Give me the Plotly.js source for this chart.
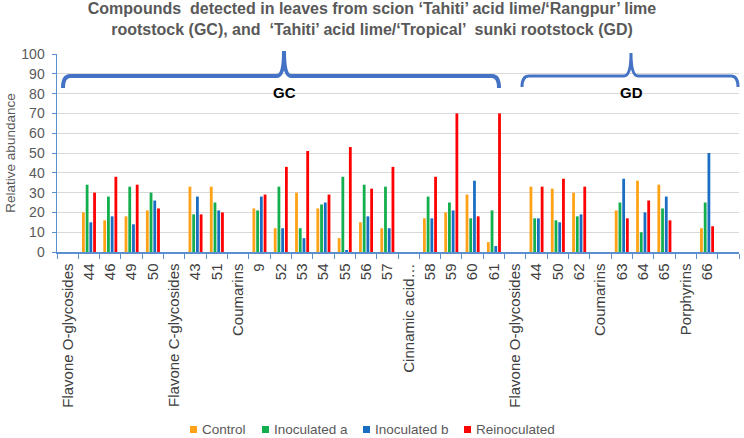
<!DOCTYPE html>
<html>
<head>
<meta charset="utf-8">
<script src="https://cdn.plot.ly/plotly-3.0.1.min.js"></script>
<style>html,body{margin:0;padding:0;background:#fff;}#chart{width:744px;height:438px;}</style>
</head>
<body>
<div id="chart"></div>
<script>
var categories = ["Flavone O-glycosides","44","46","49","50","Flavone C-glycosides","43","51","Coumarins","9","52","53","54","55","56","57","Cinnamic acid…","58","59","60","61","Flavone O-glycosides","44","50","62","Coumarins","63","64","65","Porphyrins","66",""];
var control     = [null,20,16,18,21,null,33,33,null,22,12,30,22,7,15,12,null,17,20,29,5,null,33,32,30,null,21,36,34,null,12,null];
var inoculatedA = [null,34,28,33,30,null,19,25,null,21,33,12,24,38,34,33,null,28,25,17,21,null,17,16,18,null,25,10,22,null,25,null];
var inoculatedB = [null,15,18,14,26,null,28,21,null,28,12,7,25,1,18,12,null,17,21,36,3,null,17,15,19,null,37,20,28,null,50,null];
var reinoculated= [null,30,38,34,22,null,19,20,null,29,43,51,29,53,32,43,null,38,70,18,70,null,33,37,33,null,17,26,16,null,13,null];

var seriesNames = ["Control","Inoculated a","Inoculated b","Reinoculated"];
var colors = ["#FFA215","#13AF4F","#1A6EC2","#FF0000"];

var xs = categories.map(function(_, i){ return i; });
var seriesVals = [control, inoculatedA, inoculatedB, reinoculated];

var data = seriesVals.map(function(v, k){
  return {type:"bar", name: seriesNames[k], x: xs, y: v, marker:{color: colors[k]}, hoverinfo:"skip", showlegend:false};
});

// plot area geometry (pixels) for paper conversion
var L = 57, R = 5, T = 54, B = 186, W = 744, H = 438;
var PW = W - L - R, PH = H - T - B;
function px(x){ return (x - L) / PW; }
function py(y){ return (H - B - y) / PH; }

function brace(x0, x1, xp, yh, yend, ypk, r){
  return "M "+px(x0)+","+py(yend)+" Q "+px(x0)+","+py(yh)+" "+px(x0+r)+","+py(yh)+
         " L "+px(xp-r)+","+py(yh)+" Q "+px(xp)+","+py(yh)+" "+px(xp)+","+py(ypk)+
         " Q "+px(xp)+","+py(yh)+" "+px(xp+r)+","+py(yh)+
         " L "+px(x1-r)+","+py(yh)+" Q "+px(x1)+","+py(yh)+" "+px(x1)+","+py(yend);
}

var shapes = [
  {type:"path", xref:"paper", yref:"paper", path: brace(63, 499, 284, 76, 88, 51, 7), line:{color:"#4472C4", width:4}},
  {type:"path", xref:"paper", yref:"paper", path: brace(522, 738, 631, 76, 87, 53, 7), line:{color:"#4472C4", width:3}}
];
var annotations = [
  {text:"<b>GC</b>", xref:"paper", yref:"paper", x:px(284), y:py(92), xanchor:"center", yanchor:"middle", showarrow:false, font:{size:15, color:"#000"}},
  {text:"<b>GD</b>", xref:"paper", yref:"paper", x:px(631), y:py(92), xanchor:"center", yanchor:"middle", showarrow:false, font:{size:15, color:"#000"}}
];

// custom legend (compact, like the reference)
var legendX = [190, 262, 363, 464];
seriesNames.forEach(function(n, k){
  shapes.push({type:"rect", xref:"paper", yref:"paper", x0:px(legendX[k]), x1:px(legendX[k]+7), y0:py(433), y1:py(426),
               fillcolor:colors[k], line:{width:0}});
  annotations.push({text:n, xref:"paper", yref:"paper", x:px(legendX[k]+10), y:py(429.5), xanchor:"left", yanchor:"middle",
                    showarrow:false, font:{size:13.5, color:"#595959"}});
});

var layout = {
  width:W, height:H,
  margin:{l:L, r:R, t:T, b:B},
  paper_bgcolor:"#fff", plot_bgcolor:"#fff",
  font:{family:"Liberation Sans, Arial, sans-serif", color:"#595959"},
  title:{text:"Compounds  detected in leaves from scion ‘Tahiti’ acid lime/‘Rangpur’ lime<br>rootstock (GC), and  ‘Tahiti’ acid lime/‘Tropical’  sunki rootstock (GD)",
         font:{size:16, color:"#595959", family:"Liberation Sans, Arial, sans-serif", weight:"bold"},
         x:0.5, xanchor:"center", xref:"container", y:(H-14)/H, yanchor:"middle", yref:"container"},
  barmode:"group", bargap:0.3, bargroupgap:0.25,
  showlegend:false,
  xaxis:{range:[-0.5, categories.length-0.5], tickmode:"array", tickvals:xs, ticktext:categories,
         tickangle:-90, tickfont:{size:15, color:"#404040"}, ticks:"", ticklabelstandoff:4, showgrid:false, zeroline:false,
         showline:true, linecolor:"#5B8FD0", linewidth:1.5,
         minor:{tickmode:"linear", tick0:-0.5, dtick:1, ticks:"outside", ticklen:5, tickcolor:"#5B8FD0", tickwidth:1, showgrid:false}},
  yaxis:{range:[0,100], dtick:10, tickfont:{size:14, color:"#595959"}, showgrid:true, gridcolor:"#D9D9D9", gridwidth:1,
         zeroline:false, showline:true, linecolor:"#5B8FD0", linewidth:1.5, ticks:"outside", ticklen:4, tickcolor:"#5B8FD0",
         ticklabelstandoff:4,
         title:{text:"Relative abundance", font:{size:13.5, color:"#595959"}, standoff:2}},
  shapes:shapes,
  annotations:annotations
};

Plotly.newPlot("chart", data, layout, {displayModeBar:false, staticPlot:true});
</script>
</body>
</html>
